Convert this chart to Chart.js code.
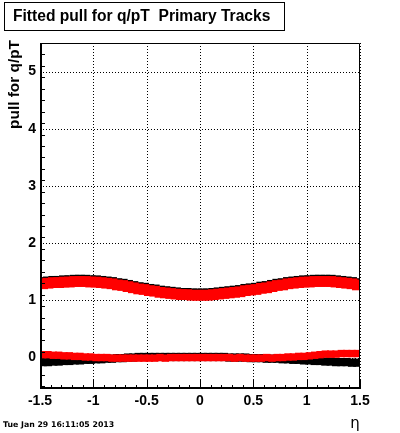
<!DOCTYPE html>
<html>
<head>
<meta charset="utf-8">
<script src="https://cdn.jsdelivr.net/npm/chart.js@4.4.0/dist/chart.umd.min.js"></script>
<style>
  html, body { margin: 0; padding: 0; background: #fff; }
  #wrap { width: 400px; height: 433px; }
</style>
</head>
<body>
<div id="wrap"><canvas id="c" width="400" height="433"></canvas></div>
<script>
// bin centres in eta (60 bins of 0.05)
const etaBins = [
  -1.475, -1.425, -1.375, -1.325, -1.275, -1.225, -1.175, -1.125, -1.075, -1.025,
  -0.975, -0.925, -0.875, -0.825, -0.775, -0.725, -0.675, -0.625, -0.575, -0.525,
  -0.475, -0.425, -0.375, -0.325, -0.275, -0.225, -0.175, -0.125, -0.075, -0.025,
   0.025,  0.075,  0.125,  0.175,  0.225,  0.275,  0.325,  0.375,  0.425,  0.475,
   0.525,  0.575,  0.625,  0.675,  0.725,  0.775,  0.825,  0.875,  0.925,  0.975,
   1.025,  1.075,  1.125,  1.175,  1.225,  1.275,  1.325,  1.375,  1.425,  1.475
];

// sigma of pull, red
const sigmaRed = [
  1.29, 1.30, 1.31, 1.31, 1.32, 1.32, 1.33, 1.33, 1.33, 1.32,
  1.32, 1.31, 1.30, 1.29, 1.27, 1.26, 1.24, 1.22, 1.20, 1.19,
  1.17, 1.16, 1.14, 1.13, 1.12, 1.11, 1.10, 1.10, 1.09, 1.09,
  1.09, 1.09, 1.10, 1.11, 1.12, 1.13, 1.14, 1.15, 1.17, 1.18,
  1.19, 1.21, 1.22, 1.24, 1.26, 1.27, 1.29, 1.30, 1.31, 1.32,
  1.32, 1.33, 1.33, 1.33, 1.33, 1.32, 1.31, 1.30, 1.29, 1.27
];
// sigma of pull, black
const sigmaBlack = [
  1.32, 1.33, 1.34, 1.34, 1.35, 1.35, 1.36, 1.36, 1.36, 1.35,
  1.35, 1.34, 1.33, 1.32, 1.30, 1.29, 1.27, 1.25, 1.23, 1.22,
  1.20, 1.19, 1.17, 1.16, 1.15, 1.14, 1.13, 1.13, 1.12, 1.12,
  1.12, 1.12, 1.13, 1.14, 1.15, 1.16, 1.17, 1.18, 1.20, 1.21,
  1.22, 1.24, 1.25, 1.27, 1.29, 1.30, 1.32, 1.33, 1.34, 1.35,
  1.35, 1.36, 1.36, 1.36, 1.36, 1.35, 1.34, 1.33, 1.32, 1.30
];
// mean of pull, red
const meanRed = [
  0.05, 0.05, 0.04, 0.04, 0.03, 0.03, 0.02, 0.02, 0.01, 0.01,
  0.00, 0.00, 0.00, -0.01, -0.01, -0.01, -0.01, -0.01, -0.01, -0.01,
  -0.01, -0.01, 0.00, -0.01, 0.00, 0.00, 0.00, 0.00, 0.00, 0.00,
  0.00, 0.00, 0.00, 0.00, 0.00, 0.00, -0.01, 0.00, -0.01, -0.01,
  -0.01, -0.01, 0.00, -0.01, 0.00, 0.00, 0.01, 0.01, 0.02, 0.02,
  0.03, 0.04, 0.05, 0.06, 0.06, 0.06, 0.07, 0.07, 0.07, 0.07
];
// mean of pull, black
const meanBlack = [
  -0.08, -0.08, -0.07, -0.07, -0.06, -0.06, -0.05, -0.05, -0.04, -0.04,
  -0.03, -0.03, -0.02, -0.02, -0.01, -0.01, 0.00, 0.00, 0.01, 0.01,
  0.01, 0.01, 0.01, 0.01, 0.01, 0.01, 0.01, 0.01, 0.01, 0.01,
  0.01, 0.01, 0.01, 0.01, 0.01, 0.00, 0.00, 0.00, 0.00, -0.01,
  -0.01, -0.01, -0.02, -0.02, -0.02, -0.03, -0.03, -0.04, -0.04, -0.05,
  -0.05, -0.06, -0.06, -0.07, -0.07, -0.08, -0.08, -0.08, -0.09, -0.09
];

const xTicks = [-1.5, -1, -0.5, 0, 0.5, 1, 1.5];
const yTicks = [0, 1, 2, 3, 4, 5];

const pts = (ys) => etaBins.map((x, i) => ({ x: x, y: ys[i] }));

const rootFrame = {
  id: 'rootFrame',
  beforeDatasetsDraw(chart) {
    const { ctx, chartArea: a, scales: { x, y } } = chart;
    ctx.save();
    ctx.strokeStyle = '#000';
    ctx.lineWidth = 1;
    ctx.setLineDash([1, 2]);
    xTicks.forEach(v => {
      const px = Math.round(x.getPixelForValue(v)) + 0.5;
      ctx.beginPath(); ctx.moveTo(px, a.top); ctx.lineTo(px, a.bottom); ctx.stroke();
    });
    yTicks.forEach(v => {
      const py = Math.round(y.getPixelForValue(v)) + 0.5;
      ctx.beginPath(); ctx.moveTo(a.left, py); ctx.lineTo(a.right, py); ctx.stroke();
    });
    ctx.restore();
  },
  afterDatasetsDraw(chart) {
    const { ctx, chartArea: a, scales: { x, y } } = chart;
    ctx.save();
    ctx.strokeStyle = '#000';
    ctx.setLineDash([]);
    // top / right
    ctx.lineWidth = 1;
    ctx.beginPath();
    ctx.moveTo(a.left, a.top + 0.5); ctx.lineTo(a.right - 0.5, a.top + 0.5); ctx.lineTo(a.right - 0.5, a.bottom);
    ctx.stroke();
    // left / bottom axes
    ctx.lineWidth = 2;
    ctx.beginPath();
    ctx.moveTo(a.left + 1, a.top); ctx.lineTo(a.left + 1, a.bottom - 1); ctx.lineTo(a.right, a.bottom - 1);
    ctx.stroke();
    // ticks
    ctx.lineWidth = 1;
    ctx.beginPath();
    for (let k = -5; k <= 55; k += 2) {
      const v = k / 10;
      if (v < y.min || v > y.max) continue;
      const py = Math.round(y.getPixelForValue(v)) + 0.5;
      const len = (k % 10 === 0) ? 9 : 5;
      ctx.moveTo(a.left, py); ctx.lineTo(a.left + len, py);
    }
    for (let k = -15; k <= 15; k++) {
      const px = Math.round(x.getPixelForValue(k / 10)) + 0.5;
      const len = (k % 5 === 0) ? 9 : 4;
      ctx.moveTo(px, a.bottom); ctx.lineTo(px, a.bottom - len);
    }
    ctx.stroke();

    // title box
    ctx.fillStyle = '#000';
    ctx.strokeRect(4.5, 2.5, 280, 28);
    ctx.font = 'bold 15.6px "Liberation Sans", Arial, sans-serif';
    ctx.textBaseline = 'middle';
    ctx.textAlign = 'left';
    ctx.fillText('Fitted pull for q/pT  Primary Tracks', 13, 17);

    // y axis title
    ctx.save();
    ctx.translate(15, 40);
    ctx.rotate(-Math.PI / 2);
    ctx.textAlign = 'right';
    ctx.textBaseline = 'middle';
    ctx.font = 'bold 15.4px "Liberation Sans", Arial, sans-serif';
    ctx.fillText('pull for q/pT', 0, 0);
    ctx.restore();

    // x axis title
    ctx.font = '15px "DejaVu Sans", sans-serif';
    ctx.textAlign = 'center';
    ctx.fillText('η', 355, 424);

    // date stamp
    ctx.font = 'bold 7.8px "DejaVu Sans", sans-serif';
    ctx.textAlign = 'left';
    ctx.fillText('Tue Jan 29 16:11:05 2013', 3, 425);
    ctx.restore();
  }
};

const tickFont = { family: '"Liberation Sans", Arial, sans-serif', size: 14, weight: 'bold' };

new Chart(document.getElementById('c'), {
  type: 'scatter',
  data: {
    datasets: [
      { label: 'red sigma', data: pts(sigmaRed), backgroundColor: '#ff0000', pointStyle: 'rect', pointRadius: 7.6, borderWidth: 0 },
      { label: 'red mean', data: pts(meanRed), backgroundColor: '#ff0000', pointStyle: 'rect', pointRadius: 5.2, borderWidth: 0 },
      { label: 'black sigma', data: pts(sigmaBlack), backgroundColor: '#000000', pointStyle: 'rect', pointRadius: 7.0, borderWidth: 0 },
      { label: 'black mean', data: pts(meanBlack), backgroundColor: '#000000', pointStyle: 'rect', pointRadius: 5.8, borderWidth: 0 }
    ]
  },
  options: {
    responsive: false,
    animation: false,
    events: [],
    layout: { padding: { left: 0, top: 43, right: 40, bottom: 20 } },
    plugins: { legend: { display: false }, tooltip: { enabled: false }, title: { display: false } },
    scales: {
      x: {
        type: 'linear', min: -1.5, max: 1.5,
        grid: { display: false, drawTicks: false }, border: { display: false },
        afterBuildTicks: s => { s.ticks = xTicks.map(v => ({ value: v })); },
        afterFit: s => { s.height = 24; },
        ticks: { color: '#000', font: tickFont, padding: 4, maxRotation: 0, autoSkip: false, callback: v => String(v) }
      },
      y: {
        type: 'linear', min: -0.55, max: 5.5,
        grid: { display: false, drawTicks: false }, border: { display: false },
        afterBuildTicks: s => { s.ticks = yTicks.map(v => ({ value: v })); },
        afterFit: s => { s.width = 40; },
        ticks: { color: '#000', font: tickFont, padding: 4, autoSkip: false, callback: v => String(v) }
      }
    }
  },
  plugins: [rootFrame]
});
</script>
</body>
</html>
